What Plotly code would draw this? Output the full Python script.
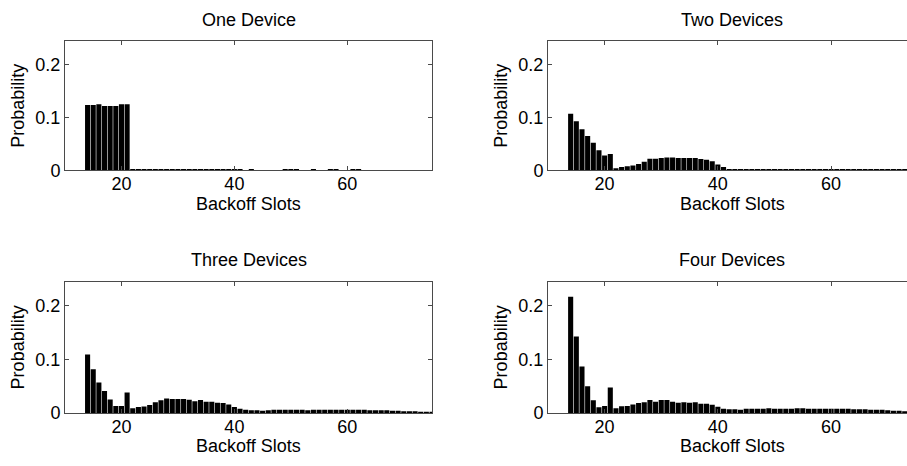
import plotly.graph_objects as go

# Backoff slot index for every bar
slots = list(range(14, 76))

# Probability of each backoff slot, one list per number of contending devices
one_device = [0.124, 0.124, 0.125, 0.122, 0.122, 0.122, 0.125, 0.125,
              0.0012, 0.0012, 0.0012, 0.0012, 0.0012, 0.0012, 0.0012, 0.0012, 0.0012, 0.0012,
              0.0012, 0.0012, 0.0012, 0.0012, 0.0012, 0.0012, 0.0012, 0.0012, 0.0012, 0.0012,
              0, 0.0012, 0, 0, 0, 0, 0, 0.0012, 0.0012, 0.0012, 0, 0, 0.0012, 0, 0,
              0.0012, 0.0012, 0, 0, 0.0012, 0.0012,
              0, 0, 0, 0, 0, 0, 0, 0, 0, 0, 0, 0, 0]

two_devices = [0.107, 0.093, 0.078, 0.065, 0.052, 0.038, 0.028, 0.031, 0.004, 0.006,
               0.0075, 0.009, 0.012, 0.016, 0.022, 0.022, 0.0235, 0.024, 0.024, 0.0235,
               0.0235, 0.0235, 0.0235, 0.0215, 0.020, 0.017, 0.011, 0.006, 0.002, 0.002,
               0.0015, 0.001, 0.0018, 0.001, 0.0018, 0.0018, 0.001, 0.001, 0.0018, 0.001,
               0.0018, 0.0018, 0.001, 0.001, 0.001, 0.001, 0.001, 0.001, 0.001, 0.001,
               0.001, 0.001, 0.001, 0.001, 0.001, 0.001, 0.001, 0.001, 0.001, 0.001,
               0.001, 0.001]

three_devices = [0.109, 0.0815, 0.057, 0.041, 0.025, 0.013, 0.013, 0.038, 0.009, 0.011,
                 0.012, 0.015, 0.020, 0.0235, 0.027, 0.026, 0.026, 0.026, 0.0245, 0.022,
                 0.024, 0.021, 0.021, 0.019, 0.0185, 0.016, 0.011, 0.008, 0.006,
                 0.005, 0.005, 0.004, 0.005, 0.006, 0.006, 0.006, 0.006, 0.006, 0.006,
                 0.005, 0.006, 0.006, 0.006, 0.006, 0.006, 0.006, 0.006, 0.006, 0.006,
                 0.006, 0.005, 0.005, 0.005, 0.005, 0.004, 0.004, 0.003, 0.003, 0.003,
                 0.002, 0.002, 0.002]

four_devices = [0.217, 0.1426, 0.087, 0.050, 0.0235, 0.0105, 0.013, 0.0475, 0.009, 0.0123,
                0.013, 0.016, 0.0185, 0.020, 0.024, 0.021, 0.024, 0.024, 0.021, 0.019,
                0.020, 0.019, 0.0198, 0.017, 0.017, 0.0154, 0.0117, 0.008, 0.0068, 0.0068,
                0.006, 0.008, 0.008, 0.008, 0.008, 0.009, 0.008, 0.008, 0.008, 0.008,
                0.009, 0.009, 0.008, 0.008, 0.008, 0.008, 0.008, 0.008, 0.008, 0.008,
                0.007, 0.007, 0.007, 0.006, 0.006, 0.006, 0.005, 0.004, 0.004, 0.003,
                0.003, 0.002]

titles = ["One Device", "Two Devices", "Three Devices", "Four Devices"]
series = [one_device, two_devices, three_devices, four_devices]
x_tick_values = [20, 40, 60]
y_tick_values = [0, 0.1, 0.2]
y_tick_text = ["0", "0.1", "0.2"]

W, H = 907, 466
FONT = "Liberation Sans, Arial, Helvetica, sans-serif"
FS = 18
LINE = "#4a4a4a"

# panel boxes in pixels from the top-left corner: (left, right, top, bottom, x-range)
panels = [
    (65, 432, 42, 174, [10, 75]),
    (548, 907, 42, 174, [10, 73.4]),
    (65, 432, 288, 422, [10, 75]),
    (548, 907, 288, 422, [10, 73.4]),
]

fig = go.Figure()
layout = dict(
    width=W, height=H, autosize=False, margin=dict(l=0, r=0, t=0, b=0, pad=0),
    paper_bgcolor="white", plot_bgcolor="white",
    showlegend=False, bargap=0.1,
    font=dict(family=FONT, size=FS, color="black"),
    annotations=[],
)

for i, (vals, title, (l, r, t, b, xr)) in enumerate(zip(series, titles, panels), start=1):
    sfx = "" if i == 1 else str(i)
    fig.add_trace(go.Bar(
        x=slots, y=vals, xaxis="x" + sfx, yaxis="y" + sfx,
        marker=dict(color="black", line=dict(width=0)),
    ))
    right_col = i in (2, 4)
    layout["xaxis" + sfx] = dict(
        domain=[l / W, r / W], range=xr, anchor="y" + sfx,
        tickvals=x_tick_values, ticks="inside", ticklen=4, tickcolor=LINE,
        ticklabelstandoff=-3,
        showline=True, linecolor=LINE, linewidth=1, mirror="ticks",
        showgrid=False, zeroline=False, fixedrange=True,
        tickfont=dict(size=FS, family=FONT),
    )
    layout["yaxis" + sfx] = dict(
        domain=[1 - b / H, 1 - t / H], range=[0, 0.245], anchor="x" + sfx,
        tickvals=y_tick_values, ticktext=y_tick_text,
        ticks="inside", ticklen=4, tickcolor=LINE,
        showline=True, linecolor=LINE, linewidth=1,
        mirror=False if right_col else "ticks",
        showgrid=False, zeroline=False, fixedrange=True,
        tickfont=dict(size=FS, family=FONT),
    )
    cx = (l + (916 if right_col else r)) / 2
    # panel title
    layout["annotations"].append(dict(
        text=title, xref="paper", yref="paper", x=cx / W, y=1 - (t - 22) / H,
        xanchor="center", yanchor="middle", showarrow=False,
        font=dict(size=FS, family=FONT),
    ))
    # x-axis title
    layout["annotations"].append(dict(
        text="Backoff Slots", xref="paper", yref="paper", x=cx / W, y=1 - (b + 34) / H,
        xanchor="center", yanchor="middle", showarrow=False,
        font=dict(size=FS, family=FONT),
    ))
    # y-axis title
    layout["annotations"].append(dict(
        text="Probability", xref="paper", yref="paper", x=(l - 47) / W, y=1 - ((t + b) / 2) / H,
        xanchor="center", yanchor="middle", showarrow=False, textangle=-90,
        font=dict(size=FS, family=FONT),
    ))

fig.update_layout(**layout)
fig.write_html("out.html", config={"displayModeBar": False})
